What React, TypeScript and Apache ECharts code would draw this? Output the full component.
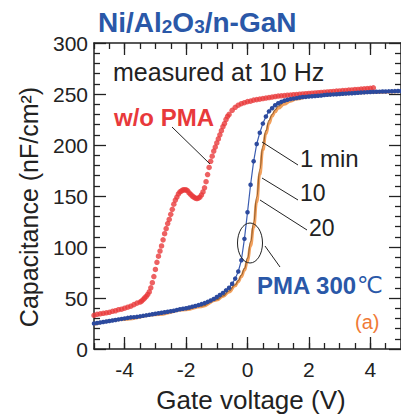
import React, { useEffect, useRef } from "react";
import * as echarts from "echarts";

// ---- data ----
const xMajorTicks = [-4, -2, 0, 2, 4];

// w/o PMA (red dots)
const redV = [
  -5.0, -4.9, -4.8, -4.7, -4.6, -4.5, -4.4, -4.3, -4.2, -4.1, -4.0, -3.9, -3.8, -3.7, -3.6, -3.5,
  -3.45, -3.4, -3.35, -3.3, -3.25, -3.2, -3.15, -3.1, -3.05, -3.0, -2.95, -2.9, -2.85, -2.8, -2.75,
  -2.7, -2.65, -2.6, -2.55, -2.5, -2.45, -2.4, -2.35, -2.3, -2.25, -2.2, -2.15, -2.1, -2.05, -2.0,
  -1.95, -1.9, -1.85, -1.8, -1.75, -1.7, -1.65, -1.6, -1.55, -1.5, -1.45, -1.4, -1.35, -1.3, -1.25,
  -1.2, -1.15, -1.1, -1.05, -1.0, -0.95, -0.9, -0.85, -0.8, -0.75, -0.7, -0.65, -0.6, -0.5, -0.4,
  -0.3, -0.2, -0.1, 0.0, 0.1, 0.2, 0.3, 0.4, 0.5, 0.6, 0.7, 0.8, 0.9, 1.0, 1.1, 1.2, 1.3, 1.4, 1.5,
  1.6, 1.7, 1.8, 1.9, 2.0, 2.1, 2.2, 2.3, 2.4, 2.5, 2.6, 2.7, 2.8, 2.9, 3.0, 3.1, 3.2, 3.3, 3.4,
  3.5, 3.6, 3.7, 3.8, 3.9, 4.0, 4.1,
];
const redC = [
  33, 34, 34.5, 35, 35.5, 36, 37, 37.5, 38.5, 39, 40, 41, 42, 43.5, 45, 46,
  47, 48.5, 50, 51.5, 53.5, 56, 60, 65, 71, 78, 85, 91, 96, 101, 107,
  113, 118, 123, 127, 132, 137, 142, 146, 149, 152, 154, 155, 156, 156, 156,
  155, 153, 151.5, 150, 149, 148, 147.5, 148, 149, 151, 154, 158, 164, 171, 178,
  184, 189, 194, 198, 202, 206, 210, 214, 218, 221, 225, 228, 230, 234, 237,
  239, 240.5, 241.5, 242.5, 243, 244, 244.5, 245, 245.5, 246, 246.5, 247, 247.5, 248, 248.2, 248.5, 248.8, 249, 249.3,
  249.5, 249.8, 250, 250.3, 250.5, 250.8, 251, 251.3, 251.5, 251.8, 252, 252.3, 252.5, 252.8, 253, 253.3, 253.5, 253.8, 254,
  254.3, 254.5, 254.8, 255, 255.3, 255.5, 256,
];

// PMA 300 C, 1 min (blue line with dots)
const blueV = [
  -5.0, -4.9, -4.8, -4.7, -4.6, -4.5, -4.4, -4.3, -4.2, -4.1, -4.0, -3.9, -3.8, -3.7, -3.6, -3.5, -3.4,
  -3.3, -3.2, -3.1, -3.0, -2.9, -2.8, -2.7, -2.6, -2.5, -2.4, -2.3, -2.2, -2.1, -2.0, -1.9, -1.8, -1.7,
  -1.6, -1.5, -1.4, -1.3, -1.2, -1.1, -1.0, -0.9, -0.8, -0.7, -0.6, -0.5, -0.4, -0.3, -0.2, -0.1, 0.0,
  0.1, 0.2, 0.3, 0.4, 0.5, 0.6, 0.7, 0.8, 0.9, 1.0, 1.1, 1.2, 1.3, 1.4, 1.5, 1.6, 1.7, 1.8, 1.9, 2.0,
  2.1, 2.2, 2.3, 2.4, 2.5, 2.6, 2.7, 2.8, 2.9, 3.0, 3.1, 3.2, 3.3, 3.4, 3.5, 3.6, 3.7, 3.8, 3.9, 4.0,
  4.1, 4.2, 4.3, 4.4, 4.5, 4.6, 4.7, 4.8, 4.9, 5.0,
];
const blueC = [
  25, 25.5, 26, 26.5, 27, 27.5, 28, 28.5, 29, 29.5, 30, 30.5, 31, 31.2, 31.5, 32, 32.5,
  33, 33.5, 34, 34.5, 35, 35.5, 36, 36.5, 37, 37.5, 38.2, 39, 39.5, 40, 40.7, 41.5, 42.2,
  43, 44, 45, 46.2, 47.5, 49, 51, 53, 55, 57.5, 60, 64, 69, 76, 87, 108, 134,
  161, 184, 201, 212, 221, 228, 233, 236, 239, 241, 242.3, 243.5, 244.3, 245, 245.5, 246, 246.5, 247, 247.2, 247.5,
  247.8, 248, 248.3, 248.6, 249, 249.2, 249.4, 249.6, 249.8, 250, 250.2, 250.4, 250.6, 250.8, 251, 251.2, 251.4, 251.6, 251.8, 252,
  252.1, 252.2, 252.3, 252.4, 252.5, 252.6, 252.7, 252.8, 252.9, 253,
];

// PMA 300 C, 10 min (brown line)
const tenV = [-5.0, -4.0, -3.0, -2.0, -1.5, -1.0, -0.8, -0.6, -0.4, -0.3, -0.2, -0.1, 0.0, 0.1, 0.2, 0.3, 0.4, 0.5, 0.6, 0.7, 0.8, 0.9, 1.0, 1.2, 1.4, 1.6, 2.0, 2.5, 3.0, 4.0, 5.0];
const tenC = [24.5, 29.5, 34, 39, 42, 48.5, 52, 57, 63, 67, 72.5, 79, 89, 105, 124, 149, 176, 199, 214, 224, 230, 234.5, 238, 242, 244.5, 246, 248, 249.5, 250.5, 252, 253];

// PMA 300 C, 20 min (orange line)
const twentyV = [-5.0, -4.0, -3.0, -2.0, -1.5, -1.0, -0.8, -0.6, -0.4, -0.3, -0.2, -0.1, 0.0, 0.1, 0.2, 0.3, 0.4, 0.5, 0.6, 0.7, 0.8, 0.9, 1.0, 1.2, 1.4, 1.6, 2.0, 2.5, 3.0, 4.0, 5.0];
const twentyC = [24, 29, 33.5, 38.5, 41.5, 48, 51.5, 56, 62, 66, 71, 77, 86, 101, 119, 144, 171, 195, 211, 221, 228, 232.5, 236, 240, 243, 245, 247.5, 249, 250, 251.5, 252.5];

const FONT = "'Liberation Sans', Arial, Helvetica, sans-serif";
const INK = "#222222";
const BLUE = "#2a58a8";
const RED = "#e8393b";

const toPairs = (xs: number[], ys: number[]) => xs.map((x, i) => [x, ys[i]]);

export default function App() {
  const ref = useRef<HTMLDivElement>(null);

  useEffect(() => {
    if (!ref.current) return;
    const chart = echarts.init(ref.current, null, { renderer: "svg" });

    const axisLine = { show: true, onZero: false, lineStyle: { color: INK, width: 1.5 } };
    const tickStyle = { color: INK, width: 1.3 };

    const xMajor = (position: "bottom" | "top", labels: boolean) => ({
      type: "value",
      min: -5,
      max: 5,
      position,
      axisLine,
      axisTick: { show: true, inside: true, length: 12, customValues: xMajorTicks, lineStyle: tickStyle },
      axisLabel: labels
        ? { show: true, customValues: xMajorTicks, fontSize: 21, color: INK, fontFamily: FONT, margin: 10 }
        : { show: false },
      splitLine: { show: false },
    });
    const xMinor = (position: "bottom" | "top") => ({
      type: "value",
      min: -5,
      max: 5,
      interval: 0.5,
      position,
      axisLine: { show: false, onZero: false },
      axisTick: { show: true, inside: true, length: 6, lineStyle: tickStyle },
      axisLabel: { show: false },
      splitLine: { show: false },
    });
    const yAx = (position: "left" | "right", labels: boolean) => ({
      type: "value",
      min: 0,
      max: 300,
      interval: 50,
      position,
      axisLine,
      axisTick: { show: true, inside: true, length: 12, lineStyle: tickStyle },
      minorTick: { show: true, splitNumber: 5, length: 6, lineStyle: tickStyle },
      axisLabel: labels
        ? { show: true, fontSize: 21, color: INK, fontFamily: FONT, margin: 6 }
        : { show: false },
      splitLine: { show: false },
      minorSplitLine: { show: false },
    });

    const line = (x1: number, y1: number, x2: number, y2: number) => ({
      type: "line",
      shape: { x1, y1, x2, y2 },
      style: { stroke: INK, lineWidth: 1 },
      z: 100,
    });
    const txt = (x: number, y: number, text: string, extra: any = {}) => ({
      type: "text",
      x,
      y,
      z: 100,
      style: {
        text,
        fontFamily: FONT,
        fontSize: 22,
        fill: INK,
        align: "left",
        verticalAlign: "middle",
        ...extra,
      },
    });

    chart.setOption({
      animation: false,
      grid: { left: 94, top: 43, width: 312, height: 306, containLabel: false },
      xAxis: [xMajor("bottom", true), xMinor("bottom"), xMajor("top", false), xMinor("top")],
      yAxis: [yAx("left", true), yAx("right", false)],
      series: [
        {
          name: "w/o PMA",
          type: "scatter",
          data: toPairs(redV, redC),
          symbol: "circle",
          symbolSize: 5.5,
          itemStyle: { color: RED },
          z: 2,
        },
        {
          name: "20 min",
          type: "line",
          data: toPairs(twentyV, twentyC),
          showSymbol: false,
          smooth: true,
          smoothMonotone: "x",
          lineStyle: { color: "#f2a05c", width: 3 },
          z: 3,
        },
        {
          name: "10 min",
          type: "line",
          data: toPairs(tenV, tenC),
          showSymbol: false,
          smooth: true,
          smoothMonotone: "x",
          lineStyle: { color: "#9a6432", width: 1.2 },
          z: 4,
        },
        {
          name: "1 min",
          type: "line",
          data: toPairs(blueV, blueC),
          symbol: "circle",
          symbolSize: 4.5,
          showSymbol: true,
          itemStyle: { color: "#2c4a9e" },
          lineStyle: { color: "#3a5cb0", width: 1.2 },
          z: 5,
        },
      ],
      graphic: [
        {
          type: "text",
          x: 98,
          y: 20,
          z: 100,
          style: {
            text: "{a|Ni/Al}{s|2}{a|O}{s|3}{a|/n-GaN}",
            align: "left",
            verticalAlign: "middle",
            rich: {
              a: { fontFamily: FONT, fontSize: 28, fontWeight: "bold", fill: BLUE, lineHeight: 32, verticalAlign: "bottom" },
              s: { fontFamily: FONT, fontSize: 19, fontWeight: "bold", fill: BLUE, lineHeight: 24, verticalAlign: "bottom" },
            },
          },
        },
        {
          type: "text",
          x: 29,
          y: 207,
          rotation: Math.PI / 2,
          z: 100,
          style: {
            text: "Capacitance (nF/cm²)",
            fontFamily: FONT,
            fontSize: 25,
            fill: INK,
            align: "center",
            verticalAlign: "middle",
          },
        },
        txt(251, 400, "Gate voltage (V)", { fontSize: 26, align: "center" }),
        txt(113, 72, "measured at 10 Hz", { fontSize: 25 }),
        txt(164, 117, "w/o PMA", { fontSize: 24, fontWeight: "bold", fill: RED, align: "center" }),
        txt(300, 158, "1 min", { fontSize: 24 }),
        txt(300, 193, "10", { fontSize: 23 }),
        txt(309, 228, "20", { fontSize: 23 }),
        {
          type: "text",
          x: 257,
          y: 285,
          z: 100,
          style: {
            text: "{b|PMA 300}{c|℃}",
            align: "left",
            verticalAlign: "middle",
            rich: {
              b: { fontFamily: FONT, fontSize: 24, fontWeight: "bold", fill: BLUE },
              c: { fontFamily: "'DejaVu Sans', sans-serif", fontSize: 23, fill: BLUE },
            },
          },
        },
        txt(355, 322, "(a)", { fontSize: 20, fill: "#f07a36" }),
        line(172, 127, 210, 164),
        line(262, 142, 298, 165),
        line(262, 178, 298, 200),
        line(260, 200, 307, 230),
        line(265, 246, 280, 267),
        {
          type: "ellipse",
          shape: { cx: 250, cy: 243, rx: 12.5, ry: 20 },
          style: { fill: "none", stroke: INK, lineWidth: 1 },
          z: 100,
        },
      ],
    });

    return () => chart.dispose();
  }, []);

  return (
    <div
      ref={ref}
      style={{ position: "absolute", left: 0, top: 0, width: 401, height: 418, background: "#fff" }}
    />
  );
}
